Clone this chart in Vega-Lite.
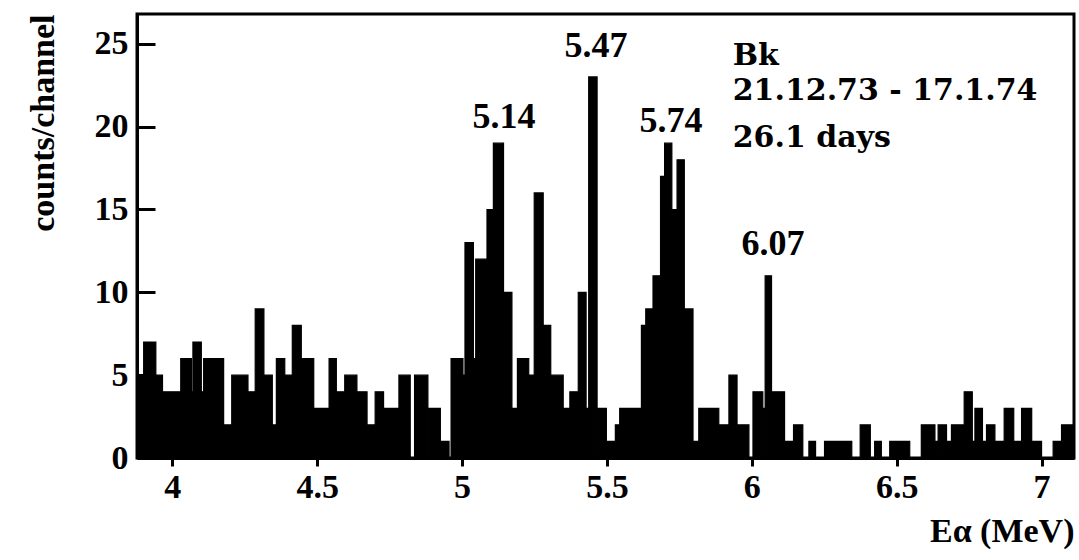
{
  "$schema": "https://vega.github.io/schema/vega-lite/v6.json",
  "width": 937,
  "height": 444,
  "autosize": {"type": "none"},
  "padding": {"left": 137, "top": 14, "right": 5, "bottom": 102},
  "background": "white",
  "config": {
    "font": "Liberation Serif",
    "view": {"stroke": "black", "strokeWidth": 3},
    "axis": {
      "labelFont": "Liberation Serif", "labelFontWeight": "bold", "labelFontSize": 34, "labelColor": "black",
      "titleFont": "Liberation Serif", "titleFontWeight": "bold", "titleFontSize": 34, "titleColor": "black",
      "domainColor": "black", "domainWidth": 3, "tickColor": "black", "tickWidth": 3, "grid": false
    }
  },
  "datasets": {
    "spec": [
      {"e0": 3.878, "e1": 3.901, "n": 5}, {"e0": 3.901, "e1": 3.943, "n": 7}, {"e0": 3.943, "e1": 3.966, "n": 5},
      {"e0": 3.966, "e1": 4.029, "n": 4}, {"e0": 4.029, "e1": 4.066, "n": 6}, {"e0": 4.066, "e1": 4.071, "n": 4},
      {"e0": 4.071, "e1": 4.100, "n": 7}, {"e0": 4.100, "e1": 4.108, "n": 4}, {"e0": 4.108, "e1": 4.177, "n": 6},
      {"e0": 4.177, "e1": 4.205, "n": 2}, {"e0": 4.205, "e1": 4.261, "n": 5}, {"e0": 4.261, "e1": 4.286, "n": 4},
      {"e0": 4.286, "e1": 4.316, "n": 9}, {"e0": 4.316, "e1": 4.345, "n": 5}, {"e0": 4.345, "e1": 4.359, "n": 2},
      {"e0": 4.359, "e1": 4.388, "n": 6}, {"e0": 4.388, "e1": 4.414, "n": 5}, {"e0": 4.414, "e1": 4.445, "n": 8},
      {"e0": 4.445, "e1": 4.488, "n": 6}, {"e0": 4.488, "e1": 4.541, "n": 3}, {"e0": 4.541, "e1": 4.566, "n": 6},
      {"e0": 4.566, "e1": 4.595, "n": 4}, {"e0": 4.595, "e1": 4.637, "n": 5}, {"e0": 4.637, "e1": 4.672, "n": 4},
      {"e0": 4.672, "e1": 4.700, "n": 2}, {"e0": 4.700, "e1": 4.729, "n": 4}, {"e0": 4.729, "e1": 4.782, "n": 3},
      {"e0": 4.782, "e1": 4.821, "n": 5}, {"e0": 4.836, "e1": 4.882, "n": 5}, {"e0": 4.882, "e1": 4.925, "n": 3},
      {"e0": 4.925, "e1": 4.955, "n": 1}, {"e0": 4.962, "e1": 5.003, "n": 6}, {"e0": 5.003, "e1": 5.010, "n": 5},
      {"e0": 5.010, "e1": 5.039, "n": 13}, {"e0": 5.039, "e1": 5.047, "n": 6}, {"e0": 5.047, "e1": 5.086, "n": 12},
      {"e0": 5.086, "e1": 5.108, "n": 15}, {"e0": 5.108, "e1": 5.143, "n": 19}, {"e0": 5.143, "e1": 5.172, "n": 10},
      {"e0": 5.172, "e1": 5.191, "n": 3}, {"e0": 5.191, "e1": 5.230, "n": 6}, {"e0": 5.230, "e1": 5.249, "n": 5},
      {"e0": 5.249, "e1": 5.280, "n": 16}, {"e0": 5.280, "e1": 5.306, "n": 8}, {"e0": 5.306, "e1": 5.349, "n": 5},
      {"e0": 5.349, "e1": 5.372, "n": 3}, {"e0": 5.372, "e1": 5.401, "n": 4}, {"e0": 5.401, "e1": 5.428, "n": 10},
      {"e0": 5.428, "e1": 5.437, "n": 3}, {"e0": 5.437, "e1": 5.466, "n": 23}, {"e0": 5.466, "e1": 5.498, "n": 3},
      {"e0": 5.498, "e1": 5.529, "n": 1}, {"e0": 5.529, "e1": 5.544, "n": 2}, {"e0": 5.544, "e1": 5.619, "n": 3},
      {"e0": 5.619, "e1": 5.634, "n": 8}, {"e0": 5.634, "e1": 5.659, "n": 9}, {"e0": 5.659, "e1": 5.685, "n": 11},
      {"e0": 5.685, "e1": 5.699, "n": 17}, {"e0": 5.699, "e1": 5.724, "n": 19}, {"e0": 5.724, "e1": 5.742, "n": 15},
      {"e0": 5.742, "e1": 5.767, "n": 18}, {"e0": 5.767, "e1": 5.797, "n": 9}, {"e0": 5.797, "e1": 5.817, "n": 1},
      {"e0": 5.817, "e1": 5.886, "n": 3}, {"e0": 5.886, "e1": 5.921, "n": 2}, {"e0": 5.921, "e1": 5.949, "n": 5},
      {"e0": 5.949, "e1": 5.990, "n": 2}, {"e0": 6.004, "e1": 6.038, "n": 4}, {"e0": 6.038, "e1": 6.046, "n": 3},
      {"e0": 6.046, "e1": 6.068, "n": 11}, {"e0": 6.068, "e1": 6.113, "n": 4}, {"e0": 6.113, "e1": 6.144, "n": 1},
      {"e0": 6.144, "e1": 6.176, "n": 2}, {"e0": 6.197, "e1": 6.220, "n": 1}, {"e0": 6.251, "e1": 6.345, "n": 1},
      {"e0": 6.374, "e1": 6.409, "n": 2}, {"e0": 6.424, "e1": 6.447, "n": 1}, {"e0": 6.476, "e1": 6.545, "n": 1},
      {"e0": 6.585, "e1": 6.632, "n": 2}, {"e0": 6.632, "e1": 6.643, "n": 1}, {"e0": 6.643, "e1": 6.672, "n": 2},
      {"e0": 6.672, "e1": 6.689, "n": 1}, {"e0": 6.689, "e1": 6.733, "n": 2}, {"e0": 6.733, "e1": 6.761, "n": 4},
      {"e0": 6.761, "e1": 6.770, "n": 1}, {"e0": 6.770, "e1": 6.796, "n": 3}, {"e0": 6.796, "e1": 6.810, "n": 1},
      {"e0": 6.810, "e1": 6.839, "n": 2}, {"e0": 6.839, "e1": 6.871, "n": 1}, {"e0": 6.871, "e1": 6.904, "n": 3},
      {"e0": 6.904, "e1": 6.931, "n": 1}, {"e0": 6.931, "e1": 6.966, "n": 3}, {"e0": 6.966, "e1": 7.000, "n": 1},
      {"e0": 7.040, "e1": 7.069, "n": 1}, {"e0": 7.069, "e1": 7.112, "n": 2}
    ],
    "peaks": [
      {"label": "5.14", "e": 5.145, "c": 19.9},
      {"label": "5.47", "e": 5.462, "c": 24.2},
      {"label": "5.74", "e": 5.721, "c": 19.7},
      {"label": "6.07", "e": 6.073, "c": 12.25}
    ],
    "info": [
      {"label": "Bk", "e": 5.934, "c": 23.7},
      {"label": "21.12.73 - 17.1.74", "e": 5.934, "c": 21.6},
      {"label": "26.1 days", "e": 5.934, "c": 18.8}
    ]
  },
  "layer": [
    {
      "data": {"name": "spec"},
      "mark": {"type": "rect", "color": "black", "stroke": "black", "strokeWidth": 1.2},
      "encoding": {
        "x": {
          "field": "e0", "type": "quantitative",
          "scale": {"domain": [3.878, 7.112], "nice": false, "zero": false},
          "axis": {"values": [4, 4.5, 5, 5.5, 6, 6.5, 7], "format": "~g", "tickSize": 8, "labelPadding": 4,
                   "labelFlush": false, "title": "Eα (MeV)", "titleAnchor": "end", "titlePadding": 10}
        },
        "x2": {"field": "e1"},
        "y": {
          "field": "n", "type": "quantitative",
          "scale": {"domain": [0, 26.8], "nice": false},
          "axis": {"values": [0, 5, 10, 15, 20, 25], "tickSize": -18, "labelPadding": 27,
                   "title": "counts/channel", "titleAnchor": "end", "titlePadding": 34}
        },
        "y2": {"datum": 0}
      }
    },
    {
      "data": {"name": "peaks"},
      "mark": {"type": "text", "font": "Liberation Serif", "fontWeight": "bold", "fontSize": 36, "align": "center", "baseline": "alphabetic", "color": "black"},
      "encoding": {
        "x": {"field": "e", "type": "quantitative"},
        "y": {"field": "c", "type": "quantitative"},
        "text": {"field": "label"}
      }
    },
    {
      "data": {"name": "info"},
      "mark": {"type": "text", "font": "DejaVu Serif", "fontWeight": "bold", "fontSize": 30, "align": "left", "baseline": "alphabetic", "color": "black"},
      "encoding": {
        "x": {"field": "e", "type": "quantitative"},
        "y": {"field": "c", "type": "quantitative"},
        "text": {"field": "label"}
      }
    }
  ]
}
